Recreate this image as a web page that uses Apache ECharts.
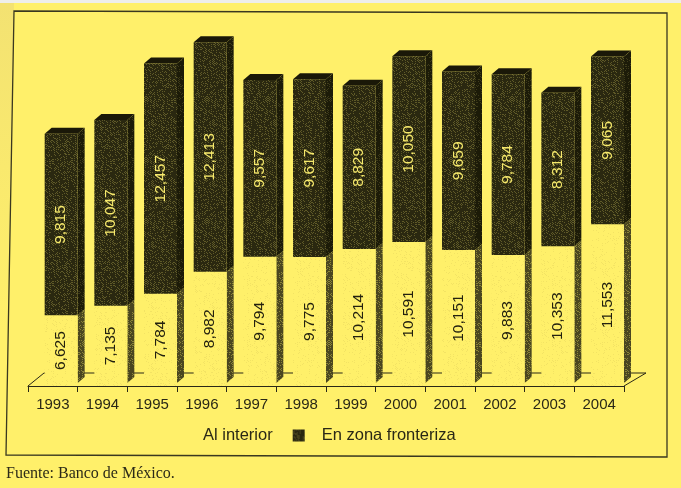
<!DOCTYPE html>
<html>
<head>
<meta charset="utf-8">
<style>
html, body { margin: 0; padding: 0; background: #fff06a; }
#chart { width: 681px; height: 488px; }
</style>
<script src="https://cdn.jsdelivr.net/npm/echarts@6/dist/echarts.min.js"></script>
</head>
<body>
<div id="chart"></div>
<script>
// datos
const years = ['1993','1994','1995','1996','1997','1998','1999','2000','2001','2002','2003','2004'];
const interior = [6625,7135,7784,8982,9794,9775,10214,10591,10151,9883,10353,11553];
const frontera = [9815,10047,12457,12413,9557,9617,8829,10050,9659,9784,8312,9065];

const fmt = v => String(v).replace(/(\d)(\d{3})$/, '$1,$2');
const font = '"Liberation Sans", Arial, sans-serif';

// medidas del efecto 3D
const barW = 33;
const depthX = 7;
const depthY = 6;

// trama de puntos de la impresion (solo textura, secuencia fija)
function stipple(base, dot, count) {
  const size = 61;
  const c = document.createElement('canvas');
  c.width = c.height = size;
  const ctx = c.getContext('2d');
  ctx.fillStyle = base;
  ctx.fillRect(0, 0, size, size);
  ctx.fillStyle = dot;
  let s = 12345;
  for (let n = 0; n < count; n++) {
    s = (s * 1103 + 12347) % 65536;
    const x = (s >> 4) % size;
    s = (s * 1103 + 12347) % 65536;
    const y = (s >> 4) % size;
    ctx.fillRect(x, y, 1, 1);
  }
  return { image: c, repeat: 'repeat' };
}
const darkFill = stipple('#2a2810', '#5f5a28', 900);
const sideFill = stipple('#1c1b08', '#3e3b1a', 700);
const lowSideFill = stipple('#4a4620', '#8a8338', 900);
const lightFill = stipple('#fff06a', '#f3e364', 350);

function block(api, colors, labelColor) {
  const i = api.value(0);
  const base = api.coord([i, api.value(1)]);
  const top = api.coord([i, api.value(2)]);
  const band = api.size([1, 0])[0];
  const r = base[0] + band / 2;
  const l = r - barW;
  const yb = base[1], yt = top[1];
  // el lateral del bloque inferior termina un poco antes del eje
  const ys = colors.cap ? yb : yb - 3;
  const children = [
    { type: 'polygon', shape: { points: [[r, yt], [r + depthX, yt - depthY], [r + depthX, ys - depthY], [r, ys]] }, style: { fill: colors.side } },
    { type: 'rect', shape: { x: l, y: yt, width: barW, height: yb - yt }, style: { fill: colors.front } },
    { type: 'text', x: (l + r) / 2, y: (yt + yb) / 2, rotation: Math.PI / 2,
      style: { text: fmt(api.value(3)), fill: labelColor, font: '15.5px ' + font, align: 'center', verticalAlign: 'middle' } }
  ];
  if (colors.cap) {
    children.unshift({ type: 'polygon', shape: { points: [[l, yt], [l + depthX, yt - depthY], [r + depthX, yt - depthY], [r, yt]] }, style: { fill: colors.cap } });
  }
  return { type: 'group', children };
}

const chart = echarts.init(document.getElementById('chart'));
chart.setOption({
  animation: false,
  backgroundColor: '#fff06a',
  title: {
    text: 'Fuente: Banco de México.',
    left: 1, top: 461,
    textStyle: { fontFamily: '"Liberation Serif", serif', fontSize: 16, fontWeight: 'normal', color: '#2c2a18' }
  },
  legend: {
    left: 169, top: 422,
    icon: 'rect',
    itemWidth: 12, itemHeight: 12, itemGap: 20,
    textStyle: { fontFamily: font, fontSize: 16.5, color: '#2a2816', padding: [0, 0, 0, 12] },
    data: ['Al interior', 'En zona fronteriza']
  },
  grid: { left: 28, right: 57, top: 31, bottom: 102 },
  xAxis: {
    type: 'category',
    data: years,
    axisLine: { lineStyle: { color: '#2a2816', width: 1 } },
    axisTick: { show: true, length: 6, lineStyle: { color: '#2a2816' } },
    axisLabel: { color: '#2a2816', fontFamily: font, fontSize: 15, margin: 11, interval: 0 }
  },
  yAxis: { type: 'value', min: 2800, max: 22000, show: false },
  series: [
    {
      name: 'Al interior',
      type: 'custom',
      itemStyle: { color: '#fff06a' },
      encode: { x: 0, y: [1, 2] },
      data: interior.map((v, i) => [i, 2800, v, v]),
      renderItem: (params, api) => block(api, { front: lightFill, side: lowSideFill }, '#23210f')
    },
    {
      name: 'En zona fronteriza',
      type: 'custom',
      itemStyle: { color: darkFill },
      encode: { x: 0, y: [1, 2] },
      data: frontera.map((v, i) => [i, interior[i], interior[i] + v, v]),
      renderItem: (params, api) => block(api, { front: darkFill, side: sideFill, cap: '#1a1808' }, '#f6e96c')
    }
  ],
  graphic: [
    // franja clara arriba y borde del papel a la izquierda
    { type: 'rect', silent: true, shape: { x: 0, y: 0, width: 681, height: 3 }, style: { fill: '#eeeeea' } },
    { type: 'polygon', silent: true, shape: { points: [[0, 3], [14, 3], [14, 11], [8, 330], [0, 330]] },
      style: { fill: new echarts.graphic.LinearGradient(0, 0, 0, 1, [{ offset: 0, color: '#f3e272' }, { offset: 1, color: '#fff06a' }]) } },
    // marco de la figura
    { type: 'polygon', silent: true, shape: { points: [[14, 11], [6, 455], [667, 457], [667, 13]] }, style: { stroke: '#3a3820', fill: null, lineWidth: 1.3 } },
    // piso de la grafica
    { type: 'polyline', silent: true, shape: { points: [[28, 386], [44, 373], [646, 373], [624, 386]] }, style: { stroke: '#2a2816', fill: null, lineWidth: 1 } }
  ]
});
</script>
</body>
</html>
